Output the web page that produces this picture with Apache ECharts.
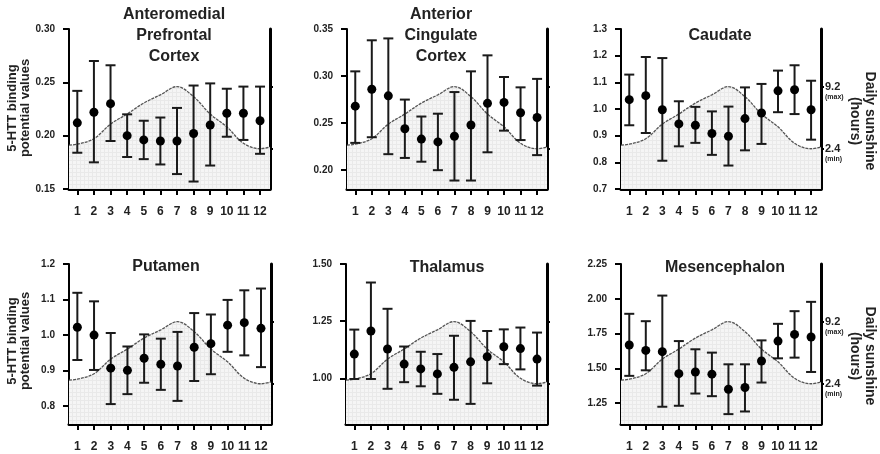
<!DOCTYPE html>
<html><head><meta charset="utf-8">
<script src="https://cdn.jsdelivr.net/npm/echarts@6/dist/echarts.min.js"></script>
<style>html,body{margin:0;padding:0;background:#fff}#c{width:880px;height:454px}</style>
</head><body><div id="c"></div><script>
// ---------- data ----------
const months = [1,2,3,4,5,6,7,8,9,10,11,12];
const sunshineHours = [2.9,3.5,5.1,6.2,7.4,8.3,9.2,8.1,6.2,4.8,3.0,2.4];
const sunshineEdges = [2.8, 2.6];           // value at left edge (x=0.5) and right edge (x=12.6)
const sunTicks = [2.4, 9.2];
const sunTickLabels = ['2.4', '9.2'];
const sunTickNotes = ['(min)', '(max)'];

const regions = ['Anteromedial\nPrefrontal\nCortex','Anterior\nCingulate\nCortex','Caudate','Putamen','Thalamus','Mesencephalon'];

const ampfcMean = [0.212,0.222,0.230,0.200,0.196,0.195,0.195,0.202,0.210,0.221,0.221,0.214];
const ampfcHigh = [0.242,0.270,0.266,0.220,0.214,0.217,0.226,0.247,0.249,0.244,0.246,0.246];
const ampfcLow  = [0.184,0.175,0.195,0.180,0.178,0.173,0.164,0.157,0.172,0.199,0.196,0.183];
const ampfcTicks = ['0.15','0.20','0.25','0.30'];

const accMean = [0.268,0.286,0.279,0.244,0.233,0.230,0.236,0.248,0.271,0.272,0.261,0.256];
const accHigh = [0.305,0.338,0.340,0.275,0.257,0.260,0.283,0.305,0.322,0.299,0.288,0.297];
const accLow  = [0.229,0.235,0.217,0.213,0.209,0.200,0.189,0.189,0.219,0.242,0.232,0.216];
const accTicks = ['0.20','0.25','0.30','0.35'];

const caudMean = [1.035,1.050,0.997,0.944,0.939,0.908,0.898,0.964,0.985,1.068,1.072,0.997];
const caudHigh = [1.129,1.195,1.191,1.029,1.008,0.991,1.009,1.081,1.094,1.144,1.164,1.106];
const caudLow  = [0.939,0.910,0.806,0.860,0.873,0.828,0.788,0.845,0.869,0.988,0.981,0.885];
const caudTicks = ['0.7','0.8','0.9','1.0','1.1','1.2','1.3'];

const putMean = [1.022,1.000,0.907,0.901,0.935,0.918,0.913,0.966,0.976,1.028,1.035,1.019];
const putHigh = [1.119,1.095,1.006,0.968,1.002,0.990,1.009,1.062,1.058,1.099,1.126,1.131];
const putLow  = [0.930,0.902,0.806,0.834,0.866,0.846,0.815,0.871,0.890,0.953,0.943,0.910];
const putTicks = ['0.8','0.9','1.0','1.1','1.2'];

const thalMean = [1.106,1.207,1.128,1.062,1.041,1.019,1.048,1.072,1.094,1.138,1.130,1.084];
const thalHigh = [1.213,1.419,1.304,1.139,1.116,1.106,1.186,1.251,1.207,1.214,1.222,1.200];
const thalLow  = [0.997,0.997,0.954,0.983,0.965,0.932,0.906,0.888,0.978,1.062,1.039,0.968];
const thalTicks = ['1.00','1.25','1.50'];

const mesMean = [1.668,1.629,1.620,1.462,1.474,1.458,1.350,1.362,1.553,1.696,1.744,1.725];
const mesHigh = [1.892,1.839,2.023,1.696,1.637,1.613,1.529,1.529,1.701,1.820,1.911,1.978];
const mesLow  = [1.446,1.486,1.224,1.231,1.319,1.300,1.171,1.190,1.398,1.572,1.577,1.474];
const mesTicks = ['1.25','1.50','1.75','2.00','2.25'];

// ---------- layout ----------
const FONT = 'Liberation Sans, Arial, Helvetica, sans-serif';
const panels = [
  {title:regions[0], mean:ampfcMean, low:ampfcLow, high:ampfcHigh, ticks:ampfcTicks, ymin:0.15, ymax:0.30, grid:{left:69,top:29,width:201,height:160}, tx:174, ty:4, right:false},
  {title:regions[1], mean:accMean, low:accLow, high:accHigh, ticks:accTicks, ymin:0.18, ymax:0.35, grid:{left:347,top:29,width:200,height:160}, tx:441, ty:4, right:false},
  {title:regions[2], mean:caudMean, low:caudLow, high:caudHigh, ticks:caudTicks, ymin:0.7, ymax:1.3, grid:{left:621,top:29,width:200,height:160}, tx:720, ty:25, right:true},
  {title:regions[3], mean:putMean, low:putLow, high:putHigh, ticks:putTicks, ymin:0.75, ymax:1.2, grid:{left:69,top:264,width:202,height:160}, tx:166, ty:256, right:false},
  {title:regions[4], mean:thalMean, low:thalLow, high:thalHigh, ticks:thalTicks, ymin:0.8, ymax:1.5, grid:{left:346,top:264,width:201,height:160}, tx:447, ty:257, right:false},
  {title:regions[5], mean:mesMean, low:mesLow, high:mesHigh, ticks:mesTicks, ymin:1.1, ymax:2.25, grid:{left:621,top:264,width:200,height:160}, tx:725, ty:257, right:true}
];

function makePattern(){
  const c = document.createElement('canvas'); c.width = 4; c.height = 4;
  const g = c.getContext('2d');
  g.fillStyle = '#f5f5f5'; g.fillRect(0,0,4,4);
  g.fillStyle = '#e9e9e9'; g.fillRect(0,0,4,1); g.fillRect(0,0,1,4);
  return c;
}
const pattern = {image: makePattern(), repeat: 'repeat'};

const sunData = [[0.5, sunshineEdges[0]]].concat(months.map((m,k)=>[m, sunshineHours[k]]), [[12.6, sunshineEdges[1]]]);

const option = {animation:false, backgroundColor:'#fff', title:[], grid:[], xAxis:[], yAxis:[], series:[], graphic:[]};

panels.forEach((p,i)=>{
  option.title.push({text:p.title, left:p.tx, top:p.ty, textAlign:'center', padding:0,
    textStyle:{fontFamily:FONT, fontSize:16, fontWeight:'bold', color:'#222', lineHeight:21}});
  option.grid.push(Object.assign({containLabel:false}, p.grid));
  option.xAxis.push({gridIndex:i, type:'value', min:0.5, max:12.6,
    axisLine:{show:true, onZero:false, lineStyle:{color:'#000', width:3}},
    axisTick:{show:true, customValues:months, length:6, lineStyle:{color:'#000', width:2}},
    axisLabel:{customValues:months, formatter:v=>String(v), fontFamily:FONT, fontSize:12, fontWeight:'bold', color:'#222', margin:17},
    splitLine:{show:false}});
  const tv = p.ticks.map(Number);
  option.yAxis.push({gridIndex:i, type:'value', position:'left', min:p.ymin, max:p.ymax,
    axisLine:{show:true, onZero:false, lineStyle:{color:'#000', width:2}},
    axisTick:{show:true, customValues:tv, length:6, lineStyle:{color:'#000', width:2}},
    axisLabel:{customValues:tv, formatter:v=>{const k=tv.findIndex(t=>Math.abs(t-v)<1e-9); return k>=0?p.ticks[k]:'';},
      fontFamily:FONT, fontSize:10, fontWeight:'bold', color:'#222', margin:14},
    splitLine:{show:false}});
  option.yAxis.push({gridIndex:i, type:'value', position:'right', min:-2, max:15.5,
    axisLine:{show:true, onZero:false, lineStyle:{color:'#000', width:3}},
    axisTick:{show:true, customValues:sunTicks, length:3, lineStyle:{color:'#000', width:2}},
    axisLabel:{show:p.right, customValues:sunTicks, margin:4, padding:[9,0,0,0],
      formatter:v=>{const k=sunTicks.findIndex(t=>Math.abs(t-v)<1e-9); return k>=0?'{a|'+sunTickLabels[k]+'}\n{b|'+sunTickNotes[k]+'}':'';},
      rich:{a:{fontFamily:FONT, fontSize:11, fontWeight:'bold', color:'#222', lineHeight:11},
            b:{fontFamily:FONT, fontSize:7, fontWeight:'bold', color:'#222', lineHeight:8}}},
    splitLine:{show:false}});
  option.series.push({type:'line', xAxisIndex:i, yAxisIndex:2*i+1, data:sunData, smooth:0.35, symbol:'none', z:1,
    lineStyle:{color:'#555', width:1.3, type:[3,1]},
    areaStyle:{color:pattern, origin:'start', opacity:1}});
  option.series.push({type:'custom', xAxisIndex:i, yAxisIndex:2*i, z:3,
    data:months.map((m,k)=>[m, p.low[k], p.high[k]]),
    encode:{x:0, y:[1,2]},
    renderItem:(params, api)=>{
      const x = api.value(0);
      const lo = api.coord([x, api.value(1)]);
      const hi = api.coord([x, api.value(2)]);
      const hw = 5;
      const st = {stroke:'#1a1a1a', lineWidth:2};
      return {type:'group', children:[
        {type:'line', shape:{x1:lo[0], y1:lo[1], x2:hi[0], y2:hi[1]}, style:st},
        {type:'line', shape:{x1:hi[0]-hw, y1:hi[1], x2:hi[0]+hw, y2:hi[1]}, style:st},
        {type:'line', shape:{x1:lo[0]-hw, y1:lo[1], x2:lo[0]+hw, y2:lo[1]}, style:st}
      ]};
    }});
  option.series.push({type:'scatter', xAxisIndex:i, yAxisIndex:2*i, z:4, symbol:'circle', symbolSize:9,
    itemStyle:{color:'#000', opacity:1}, data:months.map((m,k)=>[m, p.mean[k]])});
});

// axis titles
const yTitle = '5-HTT binding\npotential values';
const sunTitle = 'Daily sunshine\n(hours)';
[108, 341].forEach(cy=>{
  option.graphic.push({type:'text', x:19, y:cy, rotation:Math.PI/2,
    style:{text:yTitle, align:'center', verticalAlign:'middle', fontFamily:FONT, fontSize:13, fontWeight:'bold', fill:'#222', lineHeight:13}});
});
[121, 356].forEach(cy=>{
  option.graphic.push({type:'text', x:862, y:cy, rotation:-Math.PI/2,
    style:{text:sunTitle, align:'center', verticalAlign:'middle', fontFamily:FONT, fontSize:14, fontWeight:'bold', fill:'#222', lineHeight:15}});
});

const chart = echarts.init(document.getElementById('c'), null, {renderer:'canvas'});
chart.setOption(option);
</script></body></html>
